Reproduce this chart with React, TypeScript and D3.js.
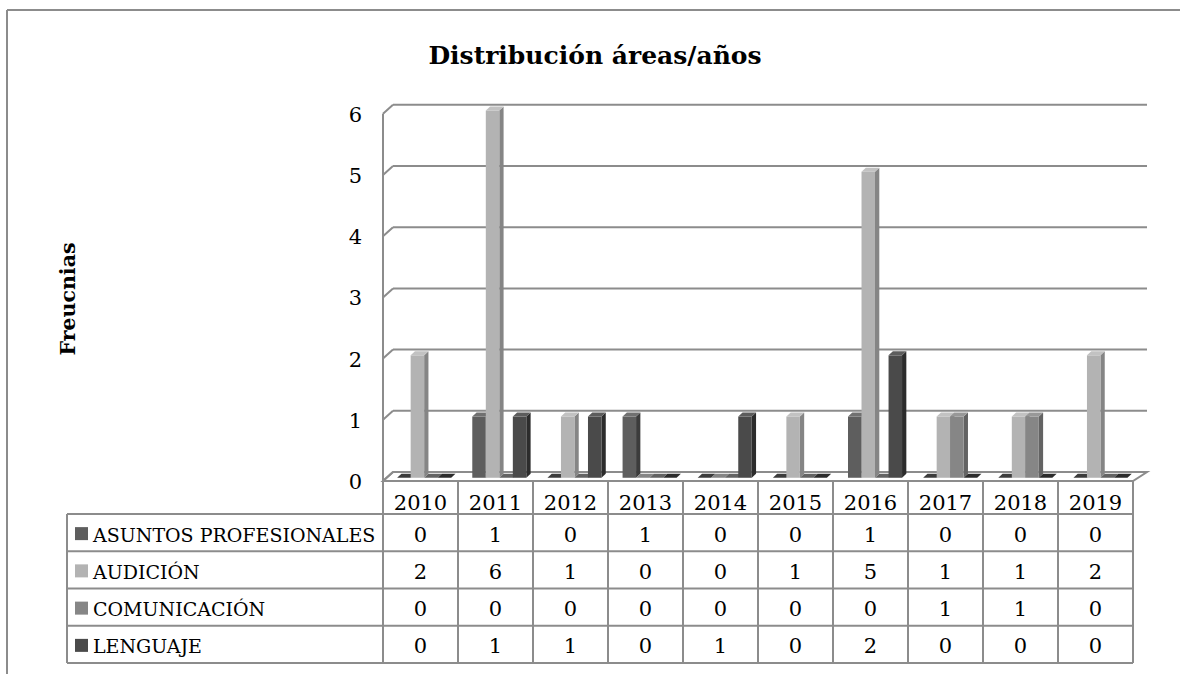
import React from "react";
import * as d3 from "d3";

const years = ["2010", "2011", "2012", "2013", "2014", "2015", "2016", "2017", "2018", "2019"];
const seriesNames = ["ASUNTOS PROFESIONALES", "AUDICIÓN", "COMUNICACIÓN", "LENGUAJE"];
const asuntos = [0, 1, 0, 1, 0, 0, 1, 0, 0, 0];
const audicion = [2, 6, 1, 0, 0, 1, 5, 1, 1, 2];
const comunicacion = [0, 0, 0, 0, 0, 0, 0, 1, 1, 0];
const lenguaje = [0, 1, 1, 0, 1, 0, 2, 0, 0, 0];
const yTicks = [0, 1, 2, 3, 4, 5, 6];
const seriesValues = [asuntos, audicion, comunicacion, lenguaje];

const frontColors = ["#5e5e5e", "#b3b3b3", "#868686", "#4a4a4a"];
const sideColors = ["#3c3c3c", "#858585", "#636363", "#2c2c2c"];
const topColors = ["#707070", "#c2c2c2", "#989898", "#5c5c5c"];

const FONT = "'DejaVu Serif', serif";
const GRID = "#8c8c8c";
const NUM_SIZE = 21;
const LABEL_SIZE = 19;

export default function App() {
  const W = 1180, H = 674;
  const x0 = 383, x1 = 1133;
  const yFront0 = 481;
  const yBack0 = 472;
  const backL = 393, backR = 1147;

  const xBand = d3.scaleBand<string>().domain(years).range([x0, x1]).padding(0);
  const inner = d3.scaleBand<string>().domain(seriesNames).range([0, xBand.bandwidth()]).paddingInner(0).paddingOuter(0.78);
  const yH = d3.scaleLinear().domain([0, 6]).range([0, 367.2]);
  const backX = d3.scaleLinear().domain([x0, x1]).range([backL, backR]);

  const t = 0.36;
  const barDy = -(yFront0 - yBack0) * t;
  const bdx = 4.3, bdy = 4;

  const bars: React.ReactNode[] = [];
  years.forEach((yr, i) => {
    seriesNames.forEach((s, k) => {
      const v = seriesValues[k][i];
      const fx = xBand(yr)! + inner(s)!;
      const bx = fx + (backX(fx) - fx) * t;
      const w = inner.bandwidth();
      const base = yFront0 + barDy;
      const top = base - yH(v);
      const key = `${yr}-${k}`;
      if (v === 0) {
        bars.push(
          <polygon key={key}
            points={`${bx},${base} ${bx + bdx},${base - bdy} ${bx + w + bdx},${base - bdy} ${bx + w},${base}`}
            fill={sideColors[k]} />
        );
      } else {
        bars.push(
          <g key={key}>
            <polygon points={`${bx + w},${top} ${bx + w + bdx},${top - bdy} ${bx + w + bdx},${base - bdy} ${bx + w},${base}`} fill={sideColors[k]} />
            <polygon points={`${bx},${top} ${bx + bdx},${top - bdy} ${bx + w + bdx},${top - bdy} ${bx + w},${top}`} fill={topColors[k]} />
            <rect x={bx} y={top} width={w} height={base - top} fill={frontColors[k]} />
          </g>
        );
      }
    });
  });

  const rowTop = 514;
  const rowH = 37.25;
  const tableLeft = 67;

  return (
    <svg width={W} height={H} style={{ position: "absolute", left: 0, top: 0, background: "#fff" }}>
      {/* frame */}
      <line x1={7} y1={10} x2={W} y2={10} stroke={GRID} strokeWidth={2} />
      <line x1={7} y1={10} x2={7} y2={H} stroke={GRID} strokeWidth={2} />

      {/* title */}
      <text x={595} y={55} textAnchor="middle" dominantBaseline="central" fontFamily={FONT} fontWeight="bold" fontSize={25} fill="#000">
        Distribución áreas/años
      </text>
      <text transform={`translate(68,299) rotate(-90)`} textAnchor="middle" dominantBaseline="central" fontFamily={FONT} fontWeight="bold" fontSize={20.5} fill="#000">
        Freucnias
      </text>

      {/* floor */}
      <polygon points={`${x0},${yFront0} ${x1},${yFront0} ${backR},${yBack0} ${backL},${yBack0}`} fill="#fff" stroke={GRID} strokeWidth={2} />

      {/* gridlines and left wall */}
      {yTicks.map(v => (
        <g key={v}>
          {v > 0 && <line x1={backL} x2={backR} y1={yBack0 - yH(v)} y2={yBack0 - yH(v)} stroke={GRID} strokeWidth={2} />}
          <line x1={x0} y1={yFront0 - yH(v)} x2={backL} y2={yBack0 - yH(v)} stroke={GRID} strokeWidth={2} />
          <text x={362} y={yFront0 - yH(v) + 1} textAnchor="end" dominantBaseline="central" fontFamily={FONT} fontSize={NUM_SIZE} fill="#000">{v}</text>
        </g>
      ))}
      <line x1={x0} x2={x0} y1={yFront0 - yH(6)} y2={yFront0} stroke={GRID} strokeWidth={2} />

      {bars}

      {/* table */}
      {years.map(yr => (
        <text key={yr} x={xBand(yr)! + xBand.bandwidth() / 2} y={503} textAnchor="middle" dominantBaseline="central" fontFamily={FONT} fontSize={NUM_SIZE} fill="#000">{yr}</text>
      ))}
      {d3.range(years.length + 1).map(i => {
        const x = x0 + i * xBand.step();
        return <line key={`v${i}`} x1={x} x2={x} y1={yFront0} y2={rowTop + rowH * 4} stroke={GRID} strokeWidth={2} />;
      })}
      <line x1={tableLeft} x2={tableLeft} y1={rowTop} y2={rowTop + rowH * 4} stroke={GRID} strokeWidth={2} />
      {d3.range(5).map(r => (
        <line key={`h${r}`} x1={tableLeft} x2={x1} y1={rowTop + r * rowH} y2={rowTop + r * rowH} stroke={GRID} strokeWidth={2} />
      ))}
      {seriesNames.map((s, k) => {
        const cy = rowTop + k * rowH + rowH / 2;
        return (
          <g key={s}>
            <rect x={75} y={cy - 5.5} width={13} height={13} fill={frontColors[k]} />
            <text x={93} y={cy + 2} dominantBaseline="central" fontFamily={FONT} fontSize={LABEL_SIZE} fill="#000">{s}</text>
            {years.map((yr, i) => (
              <text key={yr} x={xBand(yr)! + xBand.bandwidth() / 2} y={cy + 2} textAnchor="middle" dominantBaseline="central" fontFamily={FONT} fontSize={NUM_SIZE} fill="#000">{seriesValues[k][i]}</text>
            ))}
          </g>
        );
      })}
    </svg>
  );
}
